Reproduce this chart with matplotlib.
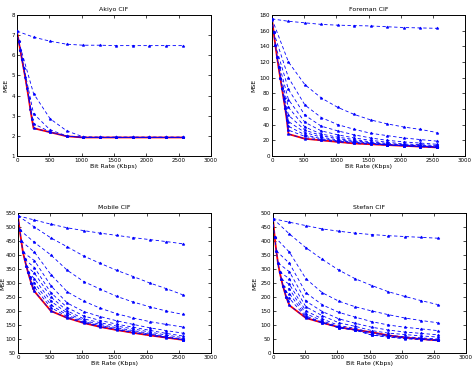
import matplotlib.pyplot as plt

# bit rates (Kbps)
low_rates = [0, 25.6, 51.2, 76.8, 102.4, 128, 153.6, 179.2, 204.8, 230.4, 256]
rates = [256, 512, 768, 1024, 1280, 1536, 1792, 2048, 2304, 2560]

# Akiyo CIF
akiyo_low = [7.2, 6.7, 6.25, 5.8, 5.35, 4.9, 4.4, 3.9, 3.35, 2.85, 2.38]
akiyo_hull = [2.38, 2.18, 1.98, 1.92, 1.92, 1.92, 1.92, 1.92, 1.92, 1.92]
akiyo_curves = [
    (0, [6.9, 6.7, 6.55, 6.5, 6.5, 6.48, 6.48, 6.48, 6.48, 6.48]),
    (1, [4.1, 2.85, 2.25, 1.95, 1.93, 1.93, 1.93, 1.93, 1.93, 1.93]),
    (2, [3.1, 2.3, 2.0, 1.93, 1.93, 1.93, 1.93, 1.93, 1.93, 1.93]),
    (3, [2.6, 2.2, 1.98, 1.93, 1.93, 1.93, 1.93, 1.93, 1.93, 1.93]),
]

# Foreman CIF
foreman_low = [175, 158, 142, 127, 113, 100, 87, 74, 61, 46, 28]
foreman_hull = [28, 22, 20, 18, 16, 15, 14, 13, 12, 11]
foreman_curves = [
    (0, [172, 170, 168, 167, 166.5, 166, 165, 164, 163.5, 163]),
    (0, [120, 91, 74, 62, 53, 46, 41, 37, 34, 30]),
    (1, [100, 65, 49, 40, 34, 29, 26, 23, 21, 19]),
    (2, [85, 52, 38, 32, 27, 23, 20, 18, 16.5, 15]),
    (3, [72, 43, 32, 27, 23, 20, 17.5, 15.5, 14.5, 13.5]),
    (4, [62, 37, 28, 24, 21, 18, 16, 14.5, 13.5, 12.5]),
    (5, [52, 33, 26, 22, 19.5, 17, 15, 14, 13, 12]),
    (6, [44, 30, 24, 20.5, 18.5, 16.5, 14.5, 13.5, 12.5, 11.5]),
    (7, [38, 27, 22, 19.5, 17.5, 16, 14, 13, 12, 11.2]),
    (8, [33, 25, 21, 19, 17, 15.5, 14, 13, 12, 11]),
]

# Mobile CIF
mobile_low = [540, 490, 450, 410, 385, 362, 340, 320, 300, 283, 270]
mobile_hull = [270, 200, 175, 157, 143, 132, 122, 113, 105, 97]
mobile_curves = [
    (0, [525, 510, 497, 487, 478, 470, 462, 455, 448, 440]),
    (0, [500, 461, 429, 396, 370, 345, 323, 300, 280, 258]),
    (1, [445, 400, 345, 305, 278, 252, 232, 215, 200, 188]),
    (2, [410, 330, 268, 235, 210, 190, 175, 162, 152, 143]),
    (3, [380, 290, 228, 198, 180, 165, 152, 140, 130, 121]),
    (4, [355, 265, 212, 182, 166, 153, 142, 131, 120, 111]),
    (5, [335, 250, 200, 172, 158, 146, 136, 125, 114, 105]),
    (6, [315, 235, 192, 166, 152, 140, 130, 120, 109, 100]),
    (7, [300, 222, 185, 162, 148, 136, 126, 117, 106, 98]),
    (8, [285, 212, 180, 160, 146, 134, 124, 115, 106, 97]),
]

# Stefan CIF
stefan_low = [480, 415, 365, 322, 290, 265, 240, 220, 200, 185, 170]
stefan_hull = [170, 125, 108, 92, 83, 74, 63, 55, 50, 45]
stefan_curves = [
    (0, [467, 455, 443, 435, 428, 423, 419, 416, 413, 410]),
    (0, [425, 376, 334, 296, 265, 241, 219, 202, 187, 173]),
    (1, [360, 265, 215, 185, 165, 150, 137, 125, 116, 108]),
    (2, [320, 215, 172, 145, 128, 112, 100, 92, 86, 80]),
    (3, [290, 185, 148, 122, 106, 92, 82, 75, 70, 65]),
    (4, [265, 165, 133, 108, 95, 80, 71, 66, 61, 57]),
    (5, [245, 150, 122, 98, 88, 72, 63, 58, 54, 50]),
    (6, [228, 140, 115, 93, 84, 67, 60, 54, 51, 47]),
    (7, [212, 132, 110, 90, 82, 64, 58, 52, 49, 45]),
    (8, [195, 128, 108, 90, 82, 64, 57, 51, 48, 45]),
]

W, H = 474, 379
fig = plt.figure(figsize=(W / 100, H / 100), dpi=100)

boxes = [
    (17, 15, 211, 156),
    (272, 15, 465, 156),
    (18, 213, 211, 353),
    (273, 213, 466, 353),
]


def draw(box, title, low, hull, curves, ylim, ystep, ylabelpad=2):
    x0, y0, x1, y1 = box
    ax = fig.add_axes([x0 / W, 1 - y1 / H, (x1 - x0) / W, (y1 - y0) / H])
    hx = low_rates + rates[1:]
    hy = low + hull[1:]
    ax.plot(hx, hy, color='red', lw=1.3, zorder=2)
    style = dict(color='blue', ls='--', lw=0.6, marker='*', ms=2.2, mew=0.4,
                 dashes=(4, 3), zorder=3)
    for d, vals in curves:
        ax.plot([low_rates[d]] + rates, [low[d]] + vals, **style)
    ax.plot(hx, hy, **style)
    ax.set_xlim(0, 3000)
    ax.set_ylim(*ylim)
    ax.set_xticks(range(0, 3001, 500))
    ax.set_yticks(range(int(ylim[0]), int(ylim[1]) + 1, ystep))
    ax.tick_params(direction='in', length=2, width=0.5, labelsize=4,
                   top=True, right=True, pad=1.5)
    for s in ax.spines.values():
        s.set_linewidth(0.7)
    ax.set_title(title, fontsize=4.5, pad=3)
    ax.set_xlabel('Bit Rate (Kbps)', fontsize=4.5, labelpad=1)
    ax.set_ylabel('MSE', fontsize=4.5, labelpad=ylabelpad)


draw(boxes[0], 'Akiyo CIF', akiyo_low, akiyo_hull, akiyo_curves, (1, 8), 1)
draw(boxes[1], 'Foreman CIF', foreman_low, foreman_hull, foreman_curves, (0, 180), 20)
draw(boxes[2], 'Mobile CIF', mobile_low, mobile_hull, mobile_curves, (50, 550), 50,
     ylabelpad=0.3)
draw(boxes[3], 'Stefan CIF', stefan_low, stefan_hull, stefan_curves, (0, 500), 50)

fig.savefig('out.png', dpi=100)
